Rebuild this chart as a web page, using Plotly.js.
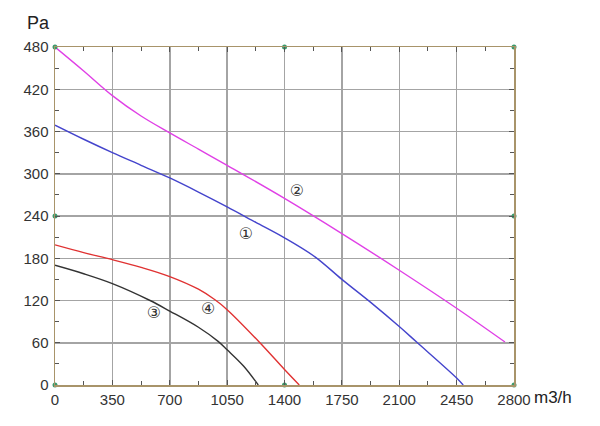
<!DOCTYPE html>
<html>
<head>
<meta charset="utf-8">
<script src="https://cdn.plot.ly/plotly-3.0.1.min.js"></script>
<style>html,body{margin:0;padding:0;background:#fff;}#chart{width:600px;height:426px;}</style>
</head>
<body>
<div id="chart"></div>
<script>
// Curve 1 (blue)
const x1 = [0, 175, 350, 525, 700, 875, 1050, 1225, 1400, 1586, 1750, 1922, 2100, 2206, 2450, 2490];
const y1 = [369, 349, 330, 312, 294, 274, 253, 231, 209, 182, 150, 118, 83, 61, 10, 0];
// Curve 2 (magenta)
const x2 = [0, 175, 350, 525, 700, 875, 1050, 1400, 1750, 2100, 2450, 2745];
const y2 = [480, 446, 411, 382, 358, 335, 312, 265, 215, 163, 109, 61];
// Curve 3 (black)
const x3 = [0, 175, 350, 580, 700, 875, 995, 1050, 1150, 1240];
const y3 = [170, 158, 144, 120, 105, 82, 62, 50, 27, 0];
// Curve 4 (red)
const x4 = [0, 175, 350, 525, 700, 875, 976, 1050, 1250, 1400, 1490];
const y4 = [199, 188, 178, 167, 154, 136, 121, 107, 60, 22, 0];
// Curve labels
const labelText = ['①', '②', '③', '④'];
const labelX = [1165, 1476, 604, 935];
const labelY = [213, 274, 101, 106];
// Marker dots on frame
const dotX = [0, 1400, 2800, 0, 2800, 0, 1400, 2800];
const dotY = [480, 480, 480, 240, 240, 0, 0, 0];
// Ticks
const xTicks = [0, 350, 700, 1050, 1400, 1750, 2100, 2450, 2800];
const yTicks = [0, 60, 120, 180, 240, 300, 360, 420, 480];

const lw = 1.4;
const sm = 1.0;
const data = [
  {x: x2, y: y2, mode: 'lines', line: {color: '#e040e6', width: lw, shape: 'spline', smoothing: sm}, hoverinfo: 'skip'},
  {x: x1, y: y1, mode: 'lines', line: {color: '#4444cc', width: lw, shape: 'spline', smoothing: sm}, hoverinfo: 'skip'},
  {x: x4, y: y4, mode: 'lines', line: {color: '#e03232', width: lw, shape: 'spline', smoothing: sm}, hoverinfo: 'skip'},
  {x: x3, y: y3, mode: 'lines', line: {color: '#333333', width: lw, shape: 'spline', smoothing: sm}, hoverinfo: 'skip'},
  {x: dotX, y: dotY, mode: 'markers', marker: {color: '#3c9a6c', size: 5}, cliponaxis: false, hoverinfo: 'skip'},
  {x: labelX, y: labelY, mode: 'text', text: labelText, textfont: {family: 'DejaVu Sans', size: 16, color: '#333'}, hoverinfo: 'skip'}
];

const axisCommon = {
  showgrid: true, gridcolor: '#a4a4a4', gridwidth: 1.5,
  showline: true, linecolor: '#a8946a', linewidth: 1.5, mirror: 'ticks',
  ticks: 'inside', ticklen: 5, tickcolor: '#555', tickwidth: 1,
  zeroline: false, fixedrange: true,
  tickfont: {family: 'Liberation Sans, Arial, sans-serif', size: 15, color: '#333'},
  minor: {ticks: 'inside', ticklen: 4, tickcolor: '#555', showgrid: false}
};

const layout = {
  width: 600, height: 426,
  margin: {l: 55, r: 86, t: 47, b: 41},
  paper_bgcolor: '#fff', plot_bgcolor: '#fff',
  showlegend: false,
  xaxis: Object.assign({}, axisCommon, {range: [0, 2800], tickvals: xTicks, ticktext: xTicks.map(String), minor: Object.assign({}, axisCommon.minor, {dtick: 175, tick0: 0})}),
  yaxis: Object.assign({}, axisCommon, {range: [0, 480], tickvals: yTicks, ticktext: yTicks.map(String), ticklabelstandoff: 2, minor: Object.assign({}, axisCommon.minor, {dtick: 30, tick0: 0})}),
  annotations: [
    {text: 'Pa', xref: 'paper', yref: 'paper', x: -0.036, y: 1.0, yshift: 12, xanchor: 'center', yanchor: 'bottom', showarrow: false, font: {family: 'Liberation Sans, Arial, sans-serif', size: 18, color: '#222'}},
    {text: 'm3/h', xref: 'paper', yref: 'paper', x: 1.0, y: 0, xshift: 18, yshift: -1, xanchor: 'left', yanchor: 'top', showarrow: false, font: {family: 'Liberation Sans, Arial, sans-serif', size: 17, color: '#222'}}
  ]
};

Plotly.newPlot('chart', data, layout, {displayModeBar: false, staticPlot: true});
</script>
</body>
</html>
